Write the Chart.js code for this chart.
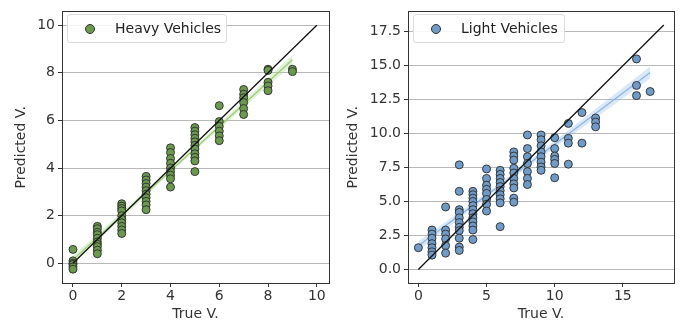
<!DOCTYPE html>
<html>
<head>
<meta charset="utf-8">
<script src="https://cdn.jsdelivr.net/npm/chart.js@4"></script>
<style>
  body { margin: 0; background: #fff; font-family: "DejaVu Sans", sans-serif; }
  #wrap { position: relative; width: 680px; height: 326px; }
  .box { position: absolute; top: 0; width: 340px; height: 326px; }
  .legend { position: absolute; top: 14px; height: 27px; border: 1px solid #dcdcdc; border-radius: 3px;
            background: rgba(255,255,255,0.85); font-size: 14px; color: #222; line-height: 27px; }
  .legend .dot { position: absolute; left: 17px; top: 9px; width: 8px; height: 8px; border-radius: 50%; border: 1px solid #333; }
  .legend span { position: absolute; left: 47px; white-space: nowrap; }
</style>
</head>
<body>
<div id="wrap">
  <div class="box" style="left:0"><canvas id="heavyChart" width="340" height="326"></canvas></div>
  <div class="box" style="left:340px"><canvas id="lightChart" width="340" height="326"></canvas></div>
  <div class="legend" style="left:67px;width:158px"><div class="dot" style="background:#6b9a4e"></div><span>Heavy Vehicles</span></div>
  <div class="legend" style="left:413px;width:150px"><div class="dot" style="background:#6f9bc9"></div><span>Light Vehicles</span></div>
</div>
<script>
// Heavy vehicles: true value -> predicted values
const heavyX = [0, 1, 2, 3, 4, 5, 6, 7, 8, 9];
const heavyPred = [
  [0.58, 0.1, 0.0, -0.05, -0.15, -0.25],
  [1.55, 1.45, 1.3, 1.2, 1.05, 0.9, 0.8, 0.7, 0.55, 0.4],
  [2.5, 2.4, 2.3, 2.2, 2.0, 1.85, 1.7, 1.55, 1.4, 1.25],
  [3.65, 3.5, 3.35, 3.2, 3.05, 2.9, 2.75, 2.6, 2.45, 2.25],
  [4.85, 4.65, 4.4, 4.2, 4.0, 3.85, 3.7, 3.55, 3.2],
  [5.7, 5.55, 5.4, 5.25, 5.1, 4.95, 4.8, 4.6, 4.45, 4.3, 3.85],
  [6.62, 5.95, 5.75, 5.55, 5.35, 5.15],
  [7.3, 7.1, 6.95, 6.75, 6.5, 6.25],
  [8.15, 8.1, 7.6, 7.45, 7.25],
  [8.15, 8.05]
];
// regression fit and its confidence band
const heavyFitX = [0, 4.5, 9];
const heavyFit = [0.15, 4.35, 8.55];
const heavyLo = [-0.02, 4.27, 8.35];
const heavyHi = [0.32, 4.43, 8.75];

// Light vehicles
const lightX = [0, 1, 2, 3, 4, 5, 6, 7, 8, 9, 10, 11, 12, 13, 16, 17];
const lightPred = [
  [1.6],
  [2.9, 2.6, 2.3, 1.9, 1.6, 1.3, 1.05],
  [4.6, 2.9, 2.6, 2.25, 1.75, 1.2],
  [7.7, 5.75, 4.4, 4.2, 3.8, 3.45, 3.1, 2.85, 2.3, 1.65, 1.4],
  [5.75, 5.5, 5.25, 5.0, 4.7, 4.4, 4.1, 3.8, 3.5, 3.2, 2.9, 2.2],
  [7.4, 6.7, 6.2, 5.9, 5.6, 5.15, 4.8, 4.3],
  [7.3, 7.0, 6.7, 6.4, 6.1, 5.8, 5.5, 5.2, 4.9, 3.15],
  [8.65, 8.35, 8.05, 7.45, 7.1, 6.7, 6.3, 6.0, 5.25, 4.95],
  [9.9, 8.9, 8.3, 7.8, 7.2, 6.7, 6.25],
  [9.9, 9.55, 9.1, 8.65, 8.3, 7.9, 7.55, 7.3],
  [9.7, 8.9, 8.35, 8.1, 7.8, 6.75],
  [10.75, 9.65, 9.3, 7.75],
  [11.55, 9.3],
  [11.15, 10.85, 10.5],
  [15.5, 13.55, 12.8],
  [13.1]
];
const lightFitX = [0, 6, 17];
const lightFit = [1.75, 6.2, 14.5];
const lightLo = [1.4, 6.05, 14.05];
const lightHi = [2.1, 6.35, 14.95];

// identity line ends
const heavyDiag = [0, 10];
const lightDiag = [0, 18];

function toPoints(xs, groups) {
  const pts = [];
  xs.forEach((x, i) => groups[i].forEach(y => pts.push({ x: x, y: y })));
  return pts;
}
function toLine(xs, ys) {
  return xs.map((x, i) => ({ x: x, y: ys[i] }));
}

// frame around the plot area (matplotlib style)
const framePlugin = {
  id: 'frame',
  afterDraw(chart) {
    const a = chart.chartArea, c = chart.ctx;
    c.save();
    c.strokeStyle = '#333';
    c.lineWidth = 1;
    c.strokeRect(Math.round(a.left) + 0.5, Math.round(a.top) + 0.5, Math.round(a.right - a.left), Math.round(a.bottom - a.top));
    c.restore();
  }
};

function makeChart(id, cfg) {
  const tickFont = { family: 'DejaVu Sans', size: 14 };
  return new Chart(document.getElementById(id), {
    type: 'scatter',
    data: {
      datasets: [
        { type: 'line', data: toLine(cfg.fitX, cfg.lo), borderWidth: 0, pointRadius: 0, fill: false, order: 5 },
        { type: 'line', data: toLine(cfg.fitX, cfg.hi), borderWidth: 0, pointRadius: 0, fill: '-1', backgroundColor: cfg.band, order: 5 },
        { type: 'line', data: toLine(cfg.fitX, cfg.fit), borderColor: cfg.fitColor, borderWidth: 1.2, pointRadius: 0, fill: false, order: 4 },
        { data: toPoints(cfg.xs, cfg.pred), backgroundColor: cfg.color, borderColor: '#2b2b2b', borderWidth: 0.9, pointRadius: 4, order: 3 },
        { type: 'line', data: toLine(cfg.diag, cfg.diag), borderColor: '#111', borderWidth: 1.3, pointRadius: 0, fill: false, order: 1 }
      ]
    },
    options: {
      responsive: false,
      animation: false,
      layout: { padding: { top: 7, right: cfg.padRight, left: 0, bottom: 0 } },
      plugins: { legend: { display: false }, tooltip: { enabled: false } },
      scales: {
        x: {
          type: 'linear', min: cfg.xMin, max: cfg.xMax,
          afterFit: s => { s.height = 43; },
          afterBuildTicks: s => { s.ticks = cfg.xTicks.map(v => ({ value: v })); },
          grid: { drawOnChartArea: false, tickLength: 4, tickColor: '#333' },
          border: { display: false },
          ticks: { font: tickFont, color: '#333', padding: 1, maxRotation: 0 },
          title: { display: true, text: 'True V.', font: tickFont, color: '#333', padding: { top: 3, bottom: 3 } }
        },
        y: {
          type: 'linear', min: cfg.yMin, max: cfg.yMax,
          afterFit: s => { s.width = cfg.yWidth; },
          afterBuildTicks: s => { s.ticks = cfg.yTicks.map(v => ({ value: v })); },
          grid: { color: '#b8b8b8', lineWidth: 1, tickLength: 4, tickColor: '#333' },
          border: { display: false },
          ticks: { font: tickFont, color: '#333', padding: 3, callback: cfg.yFmt },
          title: { display: true, text: 'Predicted V.', font: tickFont, color: '#333', padding: { top: cfg.titlePad, bottom: 0 } }
        }
      }
    },
    plugins: [framePlugin]
  });
}

makeChart('heavyChart', {
  xs: heavyX, pred: heavyPred, fitX: heavyFitX, fit: heavyFit, lo: heavyLo, hi: heavyHi, diag: heavyDiag,
  color: '#6b9a4e', fitColor: 'rgba(150,200,110,0.9)', band: 'rgba(170,215,140,0.35)',
  xMin: -0.45, xMax: 10.5, yMin: -0.83, yMax: 10.58,
  xTicks: [0, 2, 4, 6, 8, 10], yTicks: [0, 2, 4, 6, 8, 10],
  yWidth: 62, padRight: 11, titlePad: 13, yFmt: v => String(v)
});

makeChart('lightChart', {
  xs: lightX, pred: lightPred, fitX: lightFitX, fit: lightFit, lo: lightLo, hi: lightHi, diag: lightDiag,
  color: '#6f9bc9', fitColor: 'rgba(130,175,225,0.9)', band: 'rgba(150,190,235,0.35)',
  xMin: -0.76, xMax: 18.75, yMin: -1.0, yMax: 19.0,
  xTicks: [0, 5, 10, 15], yTicks: [0, 2.5, 5, 7.5, 10, 12.5, 15, 17.5],
  yWidth: 68, padRight: 6, titlePad: 5, yFmt: v => v.toFixed(1)
});
</script>
</body>
</html>
